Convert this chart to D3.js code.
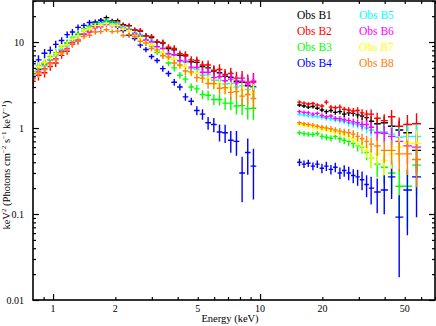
<!DOCTYPE html>
<html>
<head>
<meta charset="utf-8">
<script src="https://cdn.jsdelivr.net/npm/d3@7/dist/d3.min.js"></script>
<style>
  body { margin: 0; background: #fff; }
  svg { display: block; }
  text { font-family: "Liberation Serif", "Times New Roman", serif; }
</style>
</head>
<body>
<svg id="chart"></svg>
<script>
// bin centres (keV)
const softEnergy = [0.80, 0.85, 0.91, 0.97, 1.03, 1.10, 1.17, 1.24, 1.32, 1.41,
  1.50, 1.60, 1.70, 1.81, 1.93, 2.05, 2.18, 2.33, 2.48, 2.64,
  2.81, 2.99, 3.18, 3.39, 3.61, 3.85, 4.10, 4.36, 4.65, 4.95,
  5.27, 5.61, 5.98, 6.37, 6.78, 7.22, 7.69, 8.19, 8.72, 9.29];
const hardEnergy = [15.5, 16.3, 17.1, 18.0, 18.9, 19.9, 20.9, 22.0, 23.1, 24.3,
  25.5, 26.8, 28.2, 29.6, 31.1, 32.7, 34.4, 36.8, 39.8, 43.2, 47.0, 51.5, 57.0];

// relative 1-sigma errors for a bright source
const softErr = [0.14, 0.13, 0.12, 0.11, 0.10, 0.09, 0.09, 0.08, 0.08, 0.07,
  0.07, 0.07, 0.06, 0.06, 0.06, 0.06, 0.06, 0.06, 0.06, 0.07,
  0.07, 0.07, 0.07, 0.08, 0.08, 0.09, 0.09, 0.10, 0.10, 0.11,
  0.12, 0.13, 0.14, 0.15, 0.16, 0.17, 0.19, 0.21, 0.23, 0.25];
const hardErr = [0.05, 0.05, 0.05, 0.05, 0.05, 0.06, 0.06, 0.06, 0.06, 0.07,
  0.07, 0.08, 0.08, 0.09, 0.10, 0.11, 0.13, 0.15, 0.17, 0.19, 0.22, 0.25, 0.28];

const obsNames = ['Obs B1', 'Obs B2', 'Obs B3', 'Obs B4', 'Obs B5', 'Obs B6', 'Obs B7', 'Obs B8'];
const obsColors = ['#000000', '#ff0000', '#00ff00', '#0000ff', '#00ffff', '#ff00ff', '#ffff00', '#ff8000'];

// keV^2 (Photons cm^-2 s^-1 keV^-1)
const softB1 = [4.3, 4.8, 5.6, 6.2, 7.3, 8.1, 9.7, 10.4, 12.2, 13.5, 15.2, 16.1, 17.9, 19.2, 17.6, 17.7, 15.9, 15.5, 13.8, 13.4,
  11.8, 11.3, 10.0, 9.7, 8.4, 8.1, 7.0, 6.9, 5.9, 5.8, 5.2, 5.0, 4.6, 4.4, 4.0, 3.9, 3.5, 3.4, 3.1, 3.0];
const softB2 = [3.5, 4.1, 4.4, 5.2, 5.7, 7.0, 7.8, 9.4, 10.2, 12.3, 13.4, 15.2, 15.8, 17.4, 16.5, 17.1, 15.7, 15.4, 13.9, 13.6,
  11.8, 11.6, 10.1, 9.9, 8.7, 8.4, 7.3, 7.1, 6.2, 6.1, 5.4, 5.4, 4.7, 4.8, 4.2, 4.3, 3.8, 3.8, 3.4, 3.5];
const softB3 = [4.5, 5.3, 5.8, 6.8, 7.5, 8.9, 9.8, 11.4, 12.4, 14.3, 15.1, 16.6, 16.9, 17.8, 16.8, 16.4, 14.8, 14.0, 12.4, 11.5,
  9.8, 9.0, 7.6, 7.0, 5.7, 5.0, 4.1, 3.7, 3.0, 2.85, 2.45, 2.4, 2.15, 2.15, 1.95, 1.95, 1.8, 1.82, 1.68, 1.7];
const softB4 = [5.6, 6.2, 7.4, 8.0, 9.4, 10.4, 12.2, 13.1, 14.8, 15.6, 16.9, 17.1, 17.8, 17.2, 16.4, 15.0, 13.6, 12.0, 11.0, 9.2,
  8.2, 6.8, 6.1, 4.9, 4.3, 3.4, 3.0, 2.3, 2.05, 1.6, 1.45, 1.15, 1.1, 0.9, 0.88, 0.72, 0.7, 0.3, 0.52, 0.36];
const softB5 = [4.1, 4.9, 5.3, 6.2, 6.9, 8.2, 9.0, 10.5, 11.5, 13.4, 14.2, 15.7, 16.1, 17.0, 16.3, 16.3, 14.9, 14.3, 12.8, 12.2,
  10.7, 10.2, 8.9, 8.4, 7.3, 7.0, 6.0, 5.8, 4.9, 4.8, 4.1, 4.15, 3.6, 3.6, 3.25, 3.3, 3.0, 3.1, 2.8, 2.95];
const softB6 = [3.8, 4.5, 4.9, 5.7, 6.4, 7.7, 8.4, 9.8, 10.6, 12.3, 13.1, 14.6, 15.0, 16.0, 15.5, 15.6, 14.4, 13.8, 12.4, 11.8,
  10.5, 10.0, 8.8, 8.4, 7.3, 7.1, 6.1, 6.0, 5.1, 5.05, 4.45, 4.45, 3.85, 3.95, 3.55, 3.7, 3.35, 3.5, 3.25, 3.4];
const softB7 = [4.4, 5.2, 5.7, 6.6, 7.3, 8.7, 9.4, 10.8, 11.7, 13.5, 14.2, 15.5, 15.7, 16.4, 15.7, 15.5, 14.2, 13.5, 11.9, 11.2,
  9.8, 9.2, 8.0, 7.6, 6.5, 6.3, 5.3, 5.2, 4.4, 4.35, 3.75, 3.7, 3.25, 3.25, 2.9, 2.95, 2.65, 2.75, 2.45, 2.6];
const softB8 = [3.7, 4.4, 4.8, 5.6, 6.2, 7.5, 8.1, 9.5, 10.2, 11.6, 12.0, 13.1, 13.2, 13.9, 13.2, 13.4, 11.9, 12.2, 11.6, 10.2,
  9.7, 8.4, 8.1, 6.9, 6.7, 5.7, 5.4, 4.6, 4.5, 3.85, 3.8, 3.3, 3.3, 2.9, 2.95, 2.6, 2.65, 2.35, 2.45, 2.2];

const hardB1 = [1.85, 1.8, 1.75, 1.78, 1.7, 1.62, 1.55, 1.6, 1.52, 1.55, 1.45, 1.5, 1.48, 1.42, 1.38, 1.32, 1.2, 1.12, 1.15, 1.05, 0.95, 0.88, 0.55];
const hardB2 = [2.0, 1.95, 1.9, 1.93, 1.85, 1.8, 2.0, 1.75, 1.72, 1.75, 1.65, 1.62, 1.58, 1.6, 1.5, 1.45, 1.45, 1.3, 1.22, 1.35, 1.05, 1.1, 1.12];
const hardB3 = [0.88, 0.86, 0.85, 0.84, 0.86, 0.8, 0.78, 0.76, 0.8, 0.75, 0.72, 0.7, 0.66, 0.62, 0.6, 0.52, 0.45, 0.38, 0.35, 0.3, 0.21, 0.21, 0.37];
const hardB4 = [0.4, 0.38, 0.39, 0.36, 0.38, 0.34, 0.36, 0.33, 0.35, 0.3, 0.32, 0.3, 0.28, 0.27, 0.25, 0.22, 0.2, 0.18, 0.19, 0.27, 0.092, 0.19, 0.27];
const hardB5 = [1.45, 1.42, 1.4, 1.38, 1.36, 1.33, 1.3, 1.28, 1.25, 1.22, 1.2, 1.15, 1.12, 1.1, 1.05, 1.0, 0.95, 0.9, 0.9, 0.85, 0.78, 0.8, 0.8];
const hardB6 = [1.55, 1.52, 1.5, 1.45, 1.48, 1.4, 1.35, 1.38, 1.3, 1.28, 1.25, 1.22, 1.18, 1.15, 1.1, 1.1, 1.02, 0.88, 0.87, 0.8, 0.7, 0.62, 0.6];
const hardB7 = [1.1, 1.07, 1.05, 1.02, 1.0, 0.98, 0.95, 0.92, 0.9, 0.87, 0.85, 0.8, 0.75, 0.7, 0.62, 0.55, 0.45, 0.5, 0.42, 0.5, 0.6, 0.67, 0.66];
const hardB8 = [1.15, 1.12, 1.1, 1.08, 1.05, 1.02, 1.0, 0.98, 0.95, 0.92, 0.9, 0.88, 0.85, 0.8, 0.75, 0.7, 0.65, 0.62, 0.55, 0.55, 0.5, 0.5, 0.43];

const xLabelTicks = [1, 2, 5, 10, 20, 50];
const xMajorTicks = [1, 10];
const xMinorTicks = [0.9, 2, 3, 4, 5, 6, 7, 8, 9, 20, 30, 40, 50, 60, 70];
const yLabelTicks = [0.01, 0.1, 1, 10];
const yMinorTicks = [0.02, 0.03, 0.04, 0.05, 0.06, 0.07, 0.08, 0.09, 0.2, 0.3, 0.4, 0.5, 0.6, 0.7, 0.8, 0.9,
  2, 3, 4, 5, 6, 7, 8, 9, 20, 30];

const softSets = [softB1, softB2, softB3, softB4, softB5, softB6, softB7, softB8];
const hardSets = [hardB1, hardB2, hardB3, hardB4, hardB5, hardB6, hardB7, hardB8];

const W = 436, H = 326;
const margin = { top: 1, right: 1, bottom: 26, left: 33 };
const width = W - margin.left - margin.right;
const height = H - margin.top - margin.bottom;

const x = d3.scaleLog().domain([0.8, 70]).range([0, width]);
const y = d3.scaleLog().domain([0.01, 30]).range([height, 0]);

const svg = d3.select('#chart').attr('width', W).attr('height', H);
const g = svg.append('g').attr('transform', `translate(${margin.left},${margin.top})`);

g.append('clipPath').attr('id', 'clip')
  .append('rect').attr('width', width).attr('height', height);

// contiguous bin edges from the centres
function binEdges(e) {
  return e.map((c, i) => {
    const lo = i > 0 ? Math.sqrt(e[i - 1] * c) : c / Math.sqrt(e[1] / e[0]);
    const hi = i < e.length - 1 ? Math.sqrt(c * e[i + 1]) : c * Math.sqrt(c / e[i - 1]);
    return [lo, hi];
  });
}
const softEdges = binEdges(softEnergy);
const hardEdges = binEdges(hardEnergy);

function crosses(energy, edges, vals, errs, ref) {
  return vals.map((v, i) => {
    const rel = Math.min(0.8, Math.max(errs[i], errs[i] * Math.sqrt(ref / v)));
    return { e: energy[i], lo: edges[i][0], hi: edges[i][1], v, top: v * (1 + rel), bot: v * (1 - rel) };
  });
}

const series = obsNames.map((name, k) => ({
  name,
  color: obsColors[k],
  points: crosses(softEnergy, softEdges, softSets[k], softErr, 2)
    .concat(crosses(hardEnergy, hardEdges, hardSets[k], hardErr, 1.5))
}));

const data = g.append('g').attr('clip-path', 'url(#clip)');
data.selectAll('path.obs').data(series).enter().append('path')
  .attr('class', 'obs')
  .attr('fill', 'none')
  .attr('stroke', d => d.color)
  .attr('stroke-width', 1.4)
  .attr('d', d => d.points.map(p =>
    `M${x(p.lo)},${y(p.v)}H${x(p.hi)}M${x(p.e)},${y(p.top)}V${y(p.bot)}`).join(''));

// ticks: inward on all four sides
function tickAxis(axis, values, size, transform) {
  const a = g.append('g').attr('transform', transform || null)
    .call(axis.tickValues(values).tickSize(size).tickFormat(''));
  a.select('.domain').remove();
  a.selectAll('line').attr('stroke', '#000').attr('stroke-width', 1.2);
}
tickAxis(d3.axisBottom(x), xMinorTicks, -3, `translate(0,${height})`);
tickAxis(d3.axisBottom(x), xMajorTicks, -6, `translate(0,${height})`);
tickAxis(d3.axisTop(x), xMinorTicks, -3);
tickAxis(d3.axisTop(x), xMajorTicks, -6);
tickAxis(d3.axisLeft(y), yMinorTicks, -3);
tickAxis(d3.axisLeft(y), yLabelTicks, -6);
tickAxis(d3.axisRight(y), yMinorTicks, -3, `translate(${width},0)`);
tickAxis(d3.axisRight(y), yLabelTicks, -6, `translate(${width},0)`);

g.append('rect')
  .attr('width', width).attr('height', height)
  .attr('fill', 'none').attr('stroke', '#000').attr('stroke-width', 1.6);

g.selectAll('text.xtick').data(xLabelTicks).enter().append('text')
  .attr('class', 'xtick')
  .attr('x', d => x(d)).attr('y', height + 12)
  .attr('text-anchor', 'middle').attr('font-size', 10)
  .text(d => d);

g.selectAll('text.ytick').data(yLabelTicks).enter().append('text')
  .attr('class', 'ytick')
  .attr('x', -9).attr('y', d => y(d)).attr('dy', '0.35em')
  .attr('text-anchor', 'end').attr('font-size', 10)
  .text(d => d);

svg.append('text')
  .attr('x', 230).attr('y', 322)
  .attr('text-anchor', 'middle').attr('font-size', 10.5)
  .text('Energy (keV)');

const ylab = svg.append('text')
  .attr('transform', 'translate(9.5,165) rotate(-90)')
  .attr('text-anchor', 'middle').attr('font-size', 10.5);
[['keV', false], ['2', true], [' (Photons cm', false], ['\u22122', true], [' s', false],
  ['\u22121', true], [' keV', false], ['\u22121', true], [')', false]].forEach(([t, sup]) => {
  const ts = ylab.append('tspan').text(t);
  if (sup) ts.attr('font-size', 7).attr('baseline-shift', 'super');
});

// legend, two columns
const legend = svg.append('g');
legend.selectAll('text').data(obsNames).enter().append('text')
  .attr('x', (d, i) => i < 4 ? 297 : 359)
  .attr('y', (d, i) => 19 + (i % 4) * 16)
  .attr('font-size', 11.5)
  .attr('fill', (d, i) => obsColors[i])
  .text(d => d);
</script>
</body>
</html>
